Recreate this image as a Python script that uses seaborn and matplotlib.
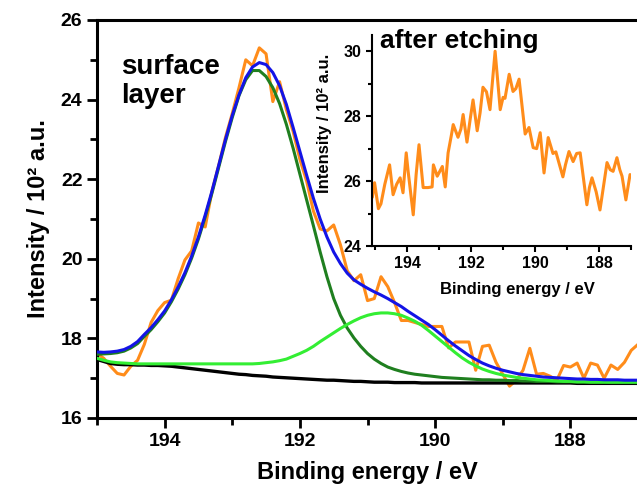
import numpy as np
import matplotlib
matplotlib.use('Agg')
import matplotlib.pyplot as plt
from matplotlib.ticker import MultipleLocator
import pandas as pd
import seaborn as sns

############### data ###############

# fitted curves, sampled every 0.1 eV from 195.0 down to 187.0 eV
fit_energy = np.linspace(195.0, 187.0, 81)

measured = [
    17.62, 17.50, 17.30, 17.12, 17.08, 17.30, 17.45, 17.85, 18.40, 18.70,
    18.90, 18.96, 19.50, 19.97, 20.20, 20.90, 20.80, 21.70, 22.35, 23.05,
    23.65, 24.30, 25.00, 24.85, 25.30, 25.15, 23.95, 24.45, 23.75, 23.20,
    22.50, 21.95, 21.20, 20.75, 20.70, 20.85, 20.35, 19.70, 19.45, 19.60,
    18.95, 19.00, 19.55, 19.30, 18.90, 18.45, 18.45, 18.40, 18.35, 18.30,
    18.30, 18.30, 17.76, 17.91, 17.91, 17.91, 17.20, 17.80, 17.83, 17.40,
    17.10, 16.80, 16.95, 17.20, 17.75, 17.10, 17.12, 17.05, 16.95, 17.32,
    17.28, 17.38, 17.00, 17.38, 17.33, 17.00, 17.33, 17.22, 17.40, 17.70,
    17.85]

envelope = [
    17.66, 17.65, 17.66, 17.68, 17.72, 17.80, 17.92, 18.10, 18.27, 18.47,
    18.69, 18.97, 19.29, 19.65, 20.07, 20.55, 21.10, 21.70, 22.35, 23.00,
    23.60, 24.12, 24.55, 24.82, 24.93, 24.88, 24.68, 24.35, 23.88, 23.30,
    22.70, 22.10, 21.52, 21.00, 20.55, 20.17, 19.88, 19.64, 19.47, 19.36,
    19.26, 19.17, 19.09, 19.00, 18.90, 18.80, 18.68, 18.57, 18.46, 18.35,
    18.22, 18.08, 17.94, 17.81, 17.69, 17.57, 17.47, 17.38, 17.31, 17.25,
    17.20, 17.16, 17.12, 17.09, 17.07, 17.05, 17.03, 17.02, 17.01, 17.00,
    16.99, 16.98, 16.98, 16.97, 16.97, 16.96, 16.96, 16.96, 16.95, 16.95,
    16.95]

peak_main = [
    17.60, 17.61, 17.62, 17.64, 17.68, 17.76, 17.87, 18.05, 18.22, 18.42,
    18.64, 18.92, 19.24, 19.60, 20.02, 20.50, 21.05, 21.65, 22.30, 22.95,
    23.55, 24.10, 24.50, 24.73, 24.73, 24.58, 24.30, 23.90, 23.38, 22.78,
    22.13, 21.48, 20.83, 20.17, 19.55, 19.00, 18.58, 18.26, 18.01, 17.80,
    17.62, 17.48, 17.37, 17.28, 17.22, 17.17, 17.13, 17.10, 17.08, 17.06,
    17.04, 17.02, 17.01, 17.00, 16.99, 16.98, 16.97, 16.96, 16.96, 16.95,
    16.95, 16.94, 16.94, 16.93, 16.93, 16.92, 16.92, 16.92, 16.91, 16.91,
    16.91, 16.90, 16.90, 16.90, 16.90, 16.90, 16.89, 16.89, 16.89, 16.89,
    16.89]

peak_second = [
    17.50, 17.45, 17.41, 17.39, 17.38, 17.37, 17.36, 17.36, 17.36, 17.36,
    17.36, 17.36, 17.36, 17.36, 17.36, 17.36, 17.36, 17.36, 17.36, 17.36,
    17.36, 17.36, 17.36, 17.36, 17.37, 17.39, 17.41, 17.44, 17.48, 17.55,
    17.62, 17.70, 17.80, 17.92, 18.03, 18.14, 18.25, 18.35, 18.44, 18.52,
    18.58, 18.62, 18.64, 18.64, 18.62, 18.58, 18.51, 18.43, 18.33, 18.20,
    18.06, 17.92, 17.78, 17.64, 17.51, 17.40, 17.31, 17.23, 17.17, 17.12,
    17.08, 17.05, 17.02, 17.00, 16.98, 16.96, 16.95, 16.94, 16.93, 16.92,
    16.92, 16.91, 16.91, 16.90, 16.90, 16.90, 16.90, 16.90, 16.90, 16.90,
    16.90]

background = [
    17.47, 17.42, 17.37, 17.35, 17.34, 17.34, 17.33, 17.33, 17.32, 17.32,
    17.31, 17.30, 17.28, 17.26, 17.24, 17.22, 17.20, 17.18, 17.16, 17.14,
    17.12, 17.10, 17.09, 17.07, 17.06, 17.05, 17.03, 17.02, 17.01, 17.00,
    16.99, 16.98, 16.97, 16.96, 16.95, 16.95, 16.94, 16.93, 16.92, 16.92,
    16.91, 16.90, 16.90, 16.90, 16.89, 16.89, 16.89, 16.89, 16.88, 16.88,
    16.88, 16.88, 16.88, 16.88, 16.88, 16.88, 16.88, 16.88, 16.88, 16.88,
    16.88, 16.88, 16.88, 16.88, 16.88, 16.88, 16.88, 16.88, 16.88, 16.88,
    16.88, 16.87, 16.87, 16.87, 16.87, 16.87, 16.87, 16.87, 16.87, 16.87,
    16.87]

# inset: spectrum after etching
etched_energy = [
    195.09, 195.02, 194.90, 194.82, 194.70, 194.55, 194.44, 194.33, 194.22,
    194.13, 194.03, 193.97, 193.81, 193.72, 193.63, 193.50, 193.35, 193.22,
    193.18, 193.06, 192.90, 192.81, 192.72, 192.62, 192.56, 192.41, 192.32,
    192.25, 192.13, 192.03, 191.94, 191.81, 191.72, 191.63, 191.52, 191.41,
    191.25, 191.09, 191.00, 190.94, 190.81, 190.69, 190.60, 190.50, 190.31,
    190.19, 190.06, 189.95, 189.84, 189.72, 189.59, 189.44, 189.35, 189.13,
    189.05, 188.94, 188.81, 188.70, 188.59, 188.38, 188.30, 188.22, 188.09,
    187.97, 187.75, 187.65, 187.56, 187.44, 187.35, 187.28, 187.16, 187.03]
etched_counts = [
    25.50, 25.95, 25.15, 25.30, 25.90, 26.50, 25.58, 25.90, 26.10,
    25.64, 26.87, 26.30, 24.96, 26.20, 27.12, 25.80, 25.80, 25.82,
    26.50, 26.15, 26.45, 25.82, 26.87, 27.40, 27.74, 27.35, 27.60,
    28.05, 27.20, 27.90, 28.50, 27.55, 28.10, 28.89, 28.75, 28.20,
    30.00, 28.20, 28.58, 28.55, 29.29, 28.76, 28.85, 29.14, 27.45,
    27.65, 27.03, 27.00, 27.49, 26.25, 27.34, 26.85, 26.90, 26.13,
    26.50, 26.91, 26.60, 26.85, 26.87, 25.27, 25.80, 26.10, 25.67,
    25.11, 26.57, 26.35, 26.30, 26.72, 26.35, 26.15, 25.42, 26.20]

############### plot ###############

sns.set_style('ticks')
plt.rcParams['font.family'] = ['Liberation Sans', 'DejaVu Sans']
plt.rcParams['font.weight'] = 'bold'
plt.rcParams['axes.labelweight'] = 'bold'
for key in ['text.color', 'axes.labelcolor', 'xtick.color', 'ytick.color',
            'axes.edgecolor']:
    plt.rcParams[key] = 'black'

ORANGE = '#ff8c1a'
BLUE = '#1414e6'
DARK_GREEN = '#1f7f1f'
LIGHT_GREEN = '#33ee33'

fits = pd.DataFrame({'energy': fit_energy, 'measured': measured,
                     'envelope': envelope, 'peak_main': peak_main,
                     'peak_second': peak_second, 'background': background})
etched = pd.DataFrame({'energy': etched_energy, 'counts': etched_counts})

fig = plt.figure(figsize=(6.37, 4.88), dpi=100)
ax = fig.add_axes([97 / 637, 70 / 488, 541 / 637, 398 / 488])

sns.lineplot(data=fits, x='energy', y='measured', color=ORANGE, lw=2.2,
             estimator=None, ax=ax, zorder=1)
sns.lineplot(data=fits, x='energy', y='background', color='black', lw=2.4,
             estimator=None, ax=ax, zorder=2)
sns.lineplot(data=fits, x='energy', y='peak_main', color=DARK_GREEN, lw=2.2,
             estimator=None, ax=ax, zorder=3)
sns.lineplot(data=fits, x='energy', y='peak_second', color=LIGHT_GREEN, lw=2.2,
             estimator=None, ax=ax, zorder=4)
sns.lineplot(data=fits, x='energy', y='envelope', color=BLUE, lw=2.2,
             estimator=None, ax=ax, zorder=5)

ax.set_xlim(195, 187)
ax.set_ylim(16, 26)
ax.xaxis.set_major_locator(MultipleLocator(2))
ax.xaxis.set_minor_locator(MultipleLocator(1))
ax.yaxis.set_major_locator(MultipleLocator(2))
ax.yaxis.set_minor_locator(MultipleLocator(1))
ax.tick_params(which='major', direction='out', length=7, width=2,
               labelsize=14, top=False, right=False)
ax.tick_params(which='minor', direction='out', length=5, width=2,
               top=False, right=False)
for side in ax.spines.values():
    side.set_linewidth(2.2)
ax.set_xlabel('Binding energy / eV', fontsize=17, labelpad=8)
ax.set_ylabel('Intensity / 10² a.u.', fontsize=17, labelpad=8)
ax.text(0.045, 0.915, 'surface\nlayer', transform=ax.transAxes,
        fontsize=20, fontweight='bold', va='top', ha='left',
        linespacing=1.15)

# inset
axin = fig.add_axes([372 / 637, 1 - 246 / 488, 259 / 637, 211 / 488])
sns.lineplot(data=etched, x='energy', y='counts', color=ORANGE, lw=2.2,
             estimator=None, ax=axin)
axin.set_xlim(195.1, 187.0)
axin.set_ylim(24, 30.5)
axin.xaxis.set_major_locator(MultipleLocator(2))
axin.xaxis.set_minor_locator(MultipleLocator(1))
axin.yaxis.set_major_locator(MultipleLocator(2))
axin.yaxis.set_minor_locator(MultipleLocator(1))
axin.set_yticks([24, 26, 28, 30])
axin.tick_params(which='major', direction='out', length=4, width=1.5,
                 labelsize=11.5)
axin.tick_params(which='minor', direction='out', length=3, width=1.5)
axin.spines['top'].set_visible(False)
axin.spines['right'].set_visible(False)
axin.spines['left'].set_linewidth(1.5)
axin.spines['bottom'].set_linewidth(1.5)
axin.patch.set_alpha(0)
axin.set_xlabel('Binding energy / eV', fontsize=12)
axin.set_ylabel('Intensity / 10² a.u.', fontsize=12)
axin.xaxis.set_label_coords(0.56, -0.17)
axin.yaxis.set_label_coords(-0.155, 0.58)
axin.text(0.03, 1.03, 'after etching', transform=axin.transAxes,
          fontsize=19, fontweight='bold', va='top', ha='left')

fig.savefig('out.png', dpi=100)
